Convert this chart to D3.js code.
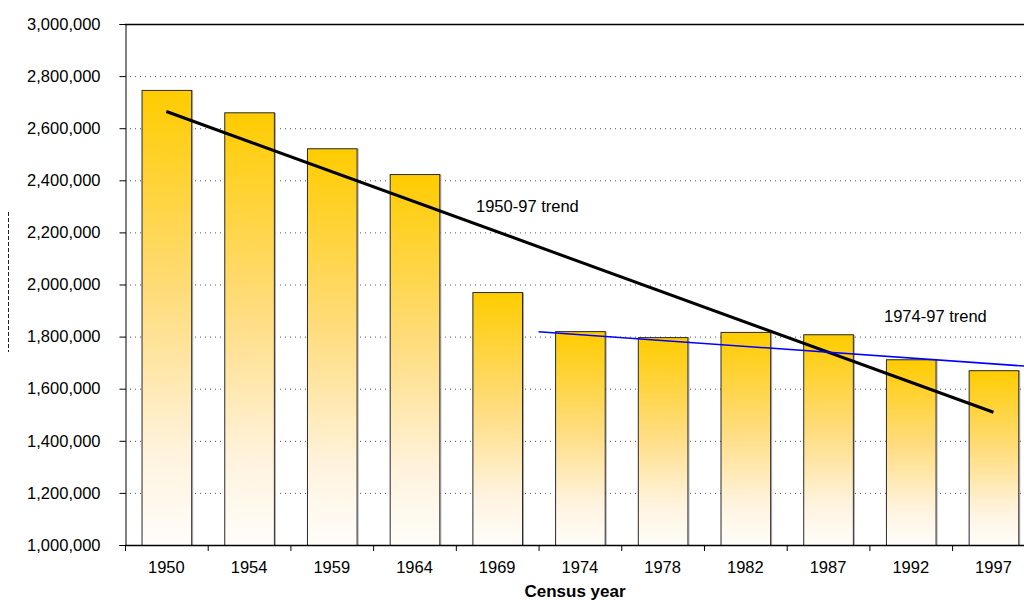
<!DOCTYPE html>
<html>
<head>
<meta charset="utf-8">
<script src="https://cdn.jsdelivr.net/npm/d3@7"></script>
<style>
  html, body { margin: 0; padding: 0; background: #fff; }
  svg { display: block; font-family: "Liberation Sans", Arial, sans-serif; }
</style>
</head>
<body>
<svg id="chart" width="1024" height="603"></svg>
<script>
// Census years and the population counted in each
const years = ["1950", "1954", "1959", "1964", "1969", "1974", "1978", "1982", "1987", "1992", "1997"];
const population = [2747000, 2661000, 2523000, 2424000, 1971000, 1821000, 1798000, 1818000, 1809000, 1713000, 1671000];

// Y axis ticks
const yTicks = [1000000, 1200000, 1400000, 1600000, 1800000, 2000000, 2200000, 2400000, 2600000, 2800000, 3000000];

// Hand-fitted 1974-97 trend: [category position, value]
const recentTrend = [[5, 1819000], [11, 1684000]];

const trendLabels = ["1950-97 trend", "1974-97 trend"];
const xTitle = "Census year";

(function draw() {
  const svg = d3.select("#chart");
  const plotLeft = 125, plotTop = 24, plotBottom = 545;
  const step = 82.71;
  const plotRight = plotLeft + step * years.length;
  const fontSize = 16.5;

  const x = d3.scaleBand().domain(years).range([plotLeft, plotRight]).paddingInner(0.4).paddingOuter(0.2);
  const xPos = d3.scaleLinear().domain([0, years.length]).range([plotLeft, plotRight]);
  const y = d3.scaleLinear().domain([1000000, 3000000]).range([plotBottom, plotTop]);

  // Bar fill: gold at the top fading to near white at the base
  const defs = svg.append("defs");
  const grad = defs.append("linearGradient").attr("id", "barFill")
    .attr("x1", 0).attr("y1", 0).attr("x2", 0).attr("y2", 1);
  grad.append("stop").attr("offset", "0%").attr("stop-color", "#ffcc00");
  grad.append("stop").attr("offset", "45%").attr("stop-color", "#ffdc7c");
  grad.append("stop").attr("offset", "80%").attr("stop-color", "#fff3de");
  grad.append("stop").attr("offset", "100%").attr("stop-color", "#fffdfa");

  // Dotted gridlines
  svg.append("g").selectAll("line").data(yTicks.filter(d => d > 1000000 && d < 3000000)).join("line")
    .attr("x1", plotLeft).attr("x2", plotRight)
    .attr("y1", d => y(d) + 0.5).attr("y2", d => y(d) + 0.5)
    .attr("stroke", "#555").attr("stroke-width", 1).attr("stroke-dasharray", "1,4");

  // Bar shadows
  svg.append("g").selectAll("rect").data(years).join("rect")
    .attr("x", d => x(d) + 1.5).attr("y", (d, i) => y(population[i]) + 1)
    .attr("width", x.bandwidth()).attr("height", (d, i) => plotBottom - y(population[i]) - 1)
    .attr("fill", "none").attr("stroke", "#aaa").attr("stroke-width", 1);

  // Bars
  svg.append("g").selectAll("rect").data(years).join("rect")
    .attr("x", d => x(d) + 0.5).attr("y", (d, i) => y(population[i]) + 0.5)
    .attr("width", x.bandwidth()).attr("height", (d, i) => plotBottom - y(population[i]))
    .attr("fill", "url(#barFill)").attr("stroke", "#2a2a2a").attr("stroke-width", 1);

  // Least-squares trend across all census years
  const n = population.length;
  const meanI = d3.mean(population, (d, i) => i);
  const meanV = d3.mean(population);
  const slope = d3.sum(population, (d, i) => (i - meanI) * (d - meanV)) / d3.sum(population, (d, i) => (i - meanI) ** 2);
  const fit = i => meanV + slope * (i - meanI);
  const c = d => x(d) + x.bandwidth() / 2;
  svg.append("line")
    .attr("x1", c(years[0])).attr("y1", y(fit(0)))
    .attr("x2", c(years[n - 1])).attr("y2", y(fit(n - 1)))
    .attr("stroke", "#000").attr("stroke-width", 3);

  // 1974-97 trend
  svg.append("line")
    .attr("x1", xPos(recentTrend[0][0])).attr("y1", y(recentTrend[0][1]))
    .attr("x2", xPos(recentTrend[1][0])).attr("y2", y(recentTrend[1][1]))
    .attr("stroke", "#0000ff").attr("stroke-width", 1.5);

  // Axes
  const yAxis = d3.axisLeft(y).tickValues(yTicks).tickSize(6).tickPadding(19).tickFormat(d3.format(","));
  const gy = svg.append("g").attr("transform", `translate(${plotLeft + 0.5},0)`).call(yAxis);
  gy.select(".domain").attr("stroke", "#000");
  gy.selectAll(".tick line").attr("stroke", "#000");
  gy.selectAll("text").attr("font-size", fontSize).attr("fill", "#000")
    .attr("font-family", "'Liberation Sans', Arial, sans-serif");

  const xAxis = d3.axisBottom(x).tickSize(0).tickPadding(16);
  const gx = svg.append("g").attr("transform", `translate(0,${plotBottom + 0.5})`).call(xAxis);
  gx.select(".domain").remove();
  gx.selectAll("text").attr("font-size", fontSize).attr("fill", "#000")
    .attr("font-family", "'Liberation Sans', Arial, sans-serif");

  // Category boundary ticks
  svg.append("g").selectAll("line").data(d3.range(years.length + 1)).join("line")
    .attr("x1", i => xPos(i) + 0.5).attr("x2", i => xPos(i) + 0.5)
    .attr("y1", plotBottom).attr("y2", plotBottom + 6)
    .attr("stroke", "#000");

  // Plot frame: base line and top edge
  svg.append("line").attr("x1", plotLeft).attr("x2", plotRight).attr("y1", plotBottom + 0.5).attr("y2", plotBottom + 0.5)
    .attr("stroke", "#000").attr("stroke-width", 1.5);
  svg.append("line").attr("x1", plotLeft).attr("x2", plotRight).attr("y1", plotTop + 0.5).attr("y2", plotTop + 0.5)
    .attr("stroke", "#000").attr("stroke-width", 1.5);

  // Trend labels
  svg.append("text").attr("x", 476).attr("y", 212).attr("font-size", fontSize).text(trendLabels[0]);
  svg.append("text").attr("x", 884).attr("y", 322).attr("font-size", fontSize).text(trendLabels[1]);

  // X axis title
  svg.append("text").attr("x", 575).attr("y", 597).attr("text-anchor", "middle")
    .attr("font-size", 17).attr("font-weight", "bold").text(xTitle);

  // Collapsed vertical axis title marker
  svg.append("line").attr("x1", 8.5).attr("x2", 8.5).attr("y1", 212).attr("y2", 352)
    .attr("stroke", "#222").attr("stroke-width", 1).attr("stroke-dasharray", "4,2");
})();
</script>
</body>
</html>
